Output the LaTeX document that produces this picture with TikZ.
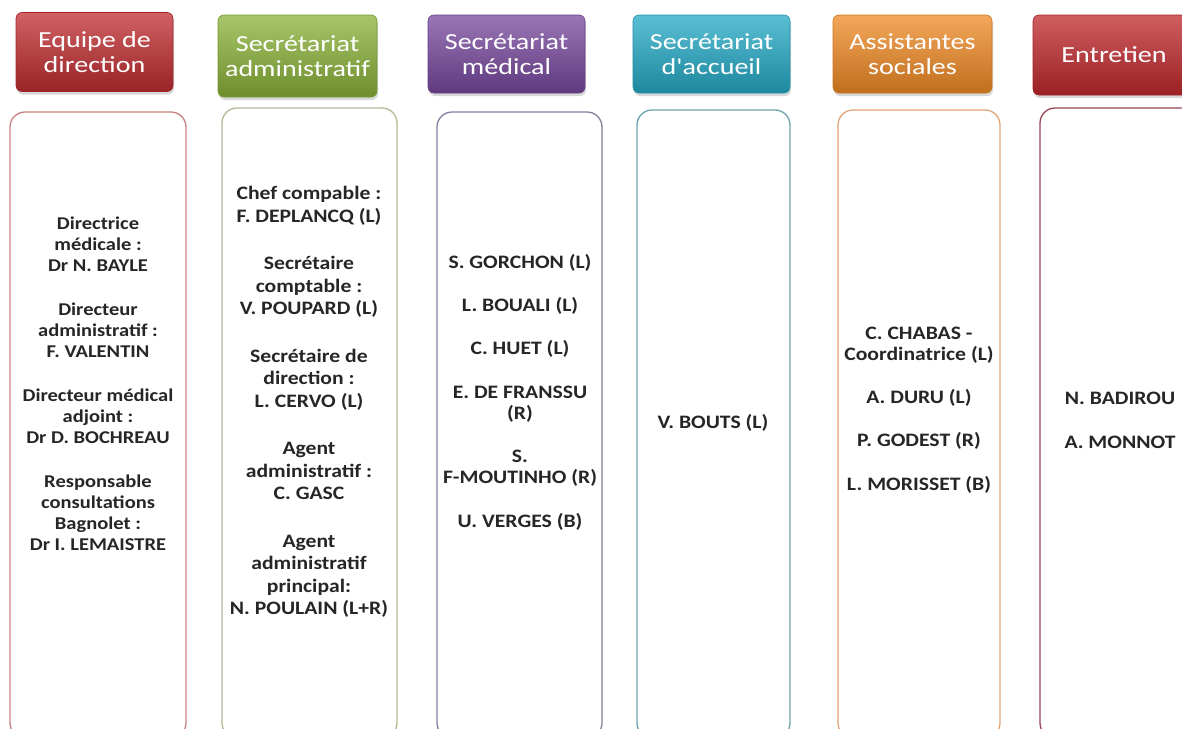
\documentclass[tikz,border=0pt]{standalone}
\usepackage{fontspec}
\setmainfont[FakeStretch=1.14]{Carlito}
\newfontfamily\hdrfont[FakeStretch=1.22]{Carlito}
\usetikzlibrary{shadows}

\definecolor{dirred}{RGB}{192,44,48}
\definecolor{admgreen}{RGB}{138,178,56}
\definecolor{medviolet}{RGB}{120,72,158}
\definecolor{accteal}{RGB}{36,170,198}
\definecolor{socorange}{RGB}{240,138,36}
\definecolor{entred}{RGB}{192,40,44}
\definecolor{dirline}{RGB}{200,130,130}
\definecolor{admline}{RGB}{180,186,150}
\definecolor{medline}{RGB}{130,130,160}
\definecolor{accline}{RGB}{110,165,175}
\definecolor{socline}{RGB}{225,165,120}
\definecolor{entline}{RGB}{150,70,85}

\tikzset{
  hdr/.style={rounded corners=6pt, minimum width=157pt, minimum height=79pt,
    top color=#1!75!white, middle color=#1, bottom color=#1!80!black,
    draw=#1!85!black, line width=0.6pt,
    drop shadow={opacity=0.3, shadow xshift=1pt, shadow yshift=-3pt},
    text=white, align=center, font=\hdrfont\fontsize{23}{25.5}\selectfont},
  colbox/.style={draw=#1, line width=1.3pt, rounded corners=15pt, fill=white},
  body/.style={align=center, text=black!85, font=\bfseries\fontsize{18}{21}\selectfont},
}

\begin{document}
\begin{tikzpicture}[x=1pt,y=-1pt]
    \useasboundingbox (0,0) rectangle (1182,728);
    \fill[white] (0,0) rectangle (1182,728);
    % column frames
    \draw[colbox=dirline] (10,112) rectangle (186,738);
    \draw[colbox=admline] (222,108) rectangle (397,738);
    \draw[colbox=medline] (437,112) rectangle (602,738);
    \draw[colbox=accline] (637,110) rectangle (790,738);
    \draw[colbox=socline] (838,110) rectangle (1000,738);
    \draw[colbox=entline] (1040,108) rectangle (1205,738);
    % headers
    \node[hdr=dirred] (hdrdir) at (94.5,52) {Equipe de\\direction};
    \node[hdr=admgreen, minimum width=159pt, minimum height=82pt] (hdradm) at (297.5,56) {Secrétariat\\administratif};
    \node[hdr=medviolet, minimum height=78pt] (hdrmed) at (506.5,54) {Secrétariat\\médical};
    \node[hdr=accteal, minimum height=78pt] (hdracc) at (711.5,54) {Secrétariat\\d'accueil};
    \node[hdr=socorange, minimum width=159pt, minimum height=78pt] (hdrsoc) at (912.5,54) {Assistantes\\sociales};
    \node[hdr=entred, minimum width=162pt, minimum height=80pt] (hdrent) at (1114,55) {Entretien};
    % names
    \node[body] (txtdir) at (98,384) {Directrice\\médicale :\\Dr N. BAYLE\\[23pt]
        Directeur\\administratif :\\F. VALENTIN\\[23pt]
        Directeur médical\\adjoint :\\Dr D. BOCHREAU\\[23pt]
        Responsable\\consultations\\Bagnolet :\\Dr I. LEMAISTRE};
    \node[body, font=\bfseries\fontsize{19}{22.5}\selectfont] (txtadm) at (309,402) {Chef compable :\\F. DEPLANCQ (L)\\[25pt]
        Secrétaire\\comptable :\\V. POUPARD (L)\\[25pt]
        Secrétaire de\\direction :\\L. CERVO (L)\\[25pt]
        Agent\\administratif :\\C. GASC\\[25pt]
        Agent\\administratif\\principal:\\N. POULAIN (L+R)};
    \node[body, font=\bfseries\fontsize{19}{21}\selectfont] (txtmed) at (520,392) {S. GORCHON (L)\\[22.4pt]
        L. BOUALI (L)\\[22.4pt]
        C. HUET (L)\\[22.4pt]
        E. DE FRANSSU\\(R)\\[22.4pt]
        S.\\F-MOUTINHO (R)\\[22.4pt]
        U. VERGES (B)};
    \node[body, font=\bfseries\fontsize{19}{21}\selectfont] (txtacc) at (713,423) {V. BOUTS (L)};
    \node[body, font=\bfseries\fontsize{19}{21}\selectfont] (txtsoc) at (919,410) {C. CHABAS -\\Coordinatrice (L)\\[22.3pt]
        A. DURU (L)\\[22.3pt]
        P. GODEST (R)\\[22.3pt]
        L. MORISSET (B)};
    \node[body, font=\bfseries\fontsize{19}{21}\selectfont] (txtent) at (1120,420) {N. BADIROU\\[23pt]A. MONNOT};
\end{tikzpicture}
\end{document}
